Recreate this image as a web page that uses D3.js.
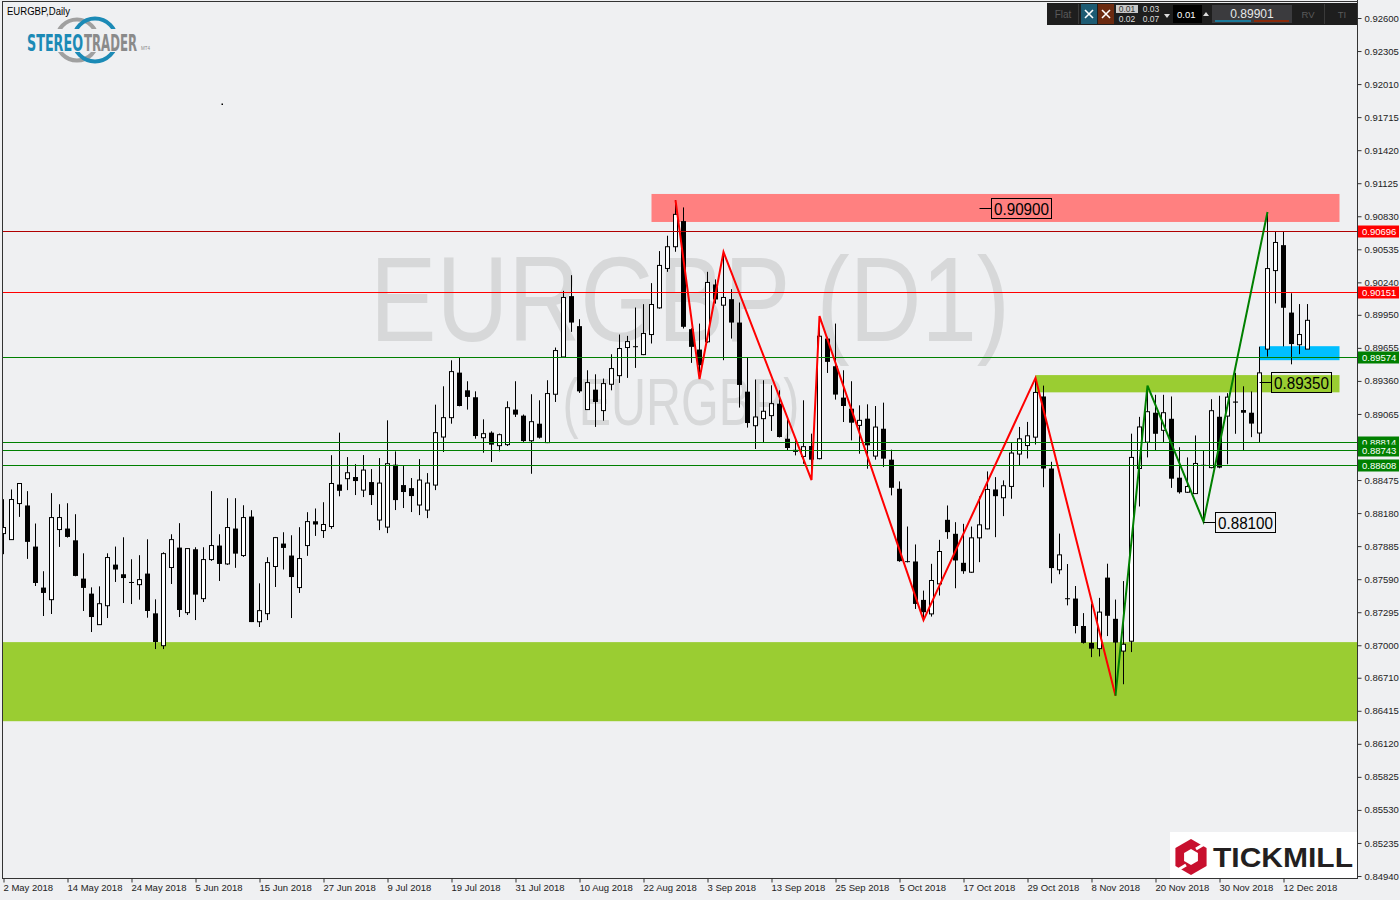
<!DOCTYPE html>
<html><head><meta charset="utf-8">
<script src="https://cdn.jsdelivr.net/npm/d3@7"></script>
<style>html,body{margin:0;padding:0;background:#eff0f2;}svg{display:block;}</style>
</head><body>
<svg id="c" width="1400" height="900"></svg>
<script>
// ---------------- DATA ----------------
const opens=[0.87997,0.87943,0.88265,0.88248,0.87881,0.87515,0.87407,0.88033,0.88042,0.87937,
0.87595,0.87461,0.87184,0.87353,0.87720,0.87634,0.87565,0.87541,0.87640,0.87285,
0.86996,0.87694,0.87872,0.87291,0.87857,0.87416,0.87765,0.87890,0.87726,0.88042,
0.87801,0.88149,0.87210,0.87282,0.87703,0.87908,0.87801,0.87515,0.87890,0.88107,
0.88024,0.88060,0.88435,0.88487,0.88502,0.88385,0.88457,0.88118,0.88055,0.88612,
0.88430,0.88403,0.88252,0.88207,0.88430,0.88859,0.89032,0.89434,0.89276,0.89214,
0.88853,0.88898,0.88782,0.88791,0.89104,0.89050,0.88826,0.88978,0.88809,0.89241,
0.89574,0.90117,0.89849,0.89104,0.89282,0.89095,0.89330,0.89407,0.89658,0.89670,
0.89595,0.89774,0.90012,0.90364,0.90558,0.90787,0.89822,0.89640,0.89709,0.90221,
0.90036,0.90090,0.89881,0.89264,0.88960,0.89023,0.89050,0.89157,0.88844,0.88734,
0.88686,0.88779,0.88666,0.89738,0.89491,0.89211,0.89112,0.88963,0.89023,0.88689,
0.88933,0.88657,0.88397,0.87751,0.87748,0.87405,0.87280,0.87548,0.88120,0.87995,
0.87736,0.87652,0.87959,0.88039,0.88391,0.88317,0.88418,0.88707,0.88783,0.88858,
0.89221,0.88578,0.87674,0.87420,0.87417,0.87172,0.87021,0.86970,0.87604,0.87236,
0.86948,0.87036,0.88578,0.88813,0.89076,0.88919,0.89022,0.88496,0.88366,0.88354,
0.88611,0.88586,0.89040,0.89046,0.89176,0.89100,0.89076,0.88895,0.89644,0.90345,
0.90572,0.89970,0.89683,0.89644];
const highs=[0.88304,0.88391,0.88447,0.88376,0.88087,0.87661,0.88358,0.88259,0.88268,0.88170,
0.87821,0.87517,0.87526,0.87821,0.87881,0.87964,0.87768,0.87804,0.87946,0.87410,
0.87830,0.87991,0.88090,0.87866,0.87875,0.87875,0.88376,0.87991,0.88313,0.88313,
0.88250,0.88206,0.87553,0.87786,0.87967,0.88009,0.87982,0.88054,0.88188,0.88221,
0.88277,0.88697,0.88898,0.88680,0.88617,0.88698,0.88573,0.88671,0.89008,0.88731,
0.88600,0.88493,0.88662,0.88537,0.89148,0.89312,0.89544,0.89565,0.89357,0.89267,
0.89017,0.88910,0.88890,0.89178,0.89357,0.89060,0.89241,0.89187,0.89366,0.89658,
0.90164,0.90304,0.89911,0.89455,0.89419,0.89381,0.89598,0.89774,0.89762,0.90015,
0.90045,0.90233,0.90519,0.90656,0.90975,0.90909,0.89830,0.89872,0.90334,0.90266,
0.90511,0.90179,0.90060,0.89565,0.89372,0.89366,0.89321,0.89276,0.89038,0.88859,
0.89187,0.88889,0.89938,0.89753,0.89872,0.89455,0.89357,0.89142,0.89151,0.89136,
0.89166,0.88746,0.88463,0.88060,0.87900,0.87488,0.87727,0.87941,0.88248,0.88099,
0.88084,0.88060,0.88329,0.88552,0.88501,0.88472,0.88814,0.88949,0.88994,0.89393,
0.89318,0.88638,0.87997,0.87725,0.87529,0.87287,0.87372,0.87423,0.87728,0.87408,
0.87573,0.88889,0.89039,0.89312,0.89236,0.89236,0.89221,0.88768,0.88677,0.88873,
0.88743,0.89197,0.89227,0.89251,0.89432,0.89312,0.89266,0.89665,0.90868,0.90696,
0.90696,0.90143,0.90046,0.90046];
const lows=[0.87813,0.87940,0.88146,0.87771,0.87529,0.87261,0.87279,0.87878,0.87961,0.87616,
0.87306,0.87118,0.87181,0.87243,0.87565,0.87377,0.87368,0.87407,0.87246,0.86966,
0.86966,0.87547,0.87252,0.87270,0.87225,0.87386,0.87753,0.87574,0.87717,0.87691,
0.87789,0.87207,0.87163,0.87225,0.87520,0.87676,0.87243,0.87467,0.87798,0.87976,
0.87958,0.88039,0.88330,0.88385,0.88341,0.88323,0.88252,0.88028,0.88001,0.88207,
0.88225,0.88189,0.88162,0.88135,0.88385,0.88725,0.88978,0.89133,0.89104,0.88844,
0.88719,0.88636,0.88731,0.88779,0.89038,0.88815,0.88531,0.88845,0.88805,0.89172,
0.89570,0.89798,0.89253,0.89100,0.88949,0.89005,0.89276,0.89342,0.89387,0.89476,
0.89590,0.89694,0.90005,0.90334,0.90513,0.89828,0.89521,0.89377,0.89700,0.90050,
0.89545,0.89738,0.89122,0.88943,0.88752,0.88812,0.88913,0.88855,0.88740,0.88695,
0.88621,0.88475,0.88660,0.89431,0.89193,0.88993,0.88829,0.88710,0.88576,0.88657,
0.88591,0.88338,0.87745,0.87740,0.87324,0.87224,0.87256,0.87444,0.87950,0.87509,
0.87638,0.87646,0.87742,0.88035,0.87965,0.88153,0.88308,0.88601,0.88668,0.88792,
0.88411,0.87553,0.87634,0.87356,0.87106,0.87015,0.86894,0.86900,0.87082,0.86550,
0.86652,0.86939,0.88239,0.88677,0.88743,0.88813,0.88405,0.88354,0.88360,0.88351,
0.88103,0.88580,0.88580,0.88616,0.88888,0.88743,0.88858,0.88813,0.89577,0.90052,
0.89668,0.89508,0.89599,0.89644];
const closes=[0.88051,0.88301,0.88444,0.87923,0.87556,0.87467,0.88140,0.88140,0.87967,0.87619,
0.87512,0.87252,0.87371,0.87783,0.87676,0.87600,0.87559,0.87586,0.87306,0.87029,
0.87818,0.87943,0.87315,0.87863,0.87452,0.87765,0.87890,0.87726,0.88051,0.87818,
0.88140,0.87207,0.87309,0.87738,0.87961,0.87869,0.87609,0.87774,0.88104,0.88078,
0.88078,0.88444,0.88379,0.88540,0.88466,0.88564,0.88341,0.88448,0.88621,0.88296,
0.88368,0.88332,0.88475,0.88448,0.88898,0.89032,0.89443,0.89136,0.89217,0.88868,
0.88889,0.88791,0.88880,0.89121,0.89059,0.88823,0.88996,0.88853,0.89247,0.89631,
0.90105,0.89881,0.89267,0.89345,0.89172,0.89336,0.89470,0.89649,0.89711,0.89661,
0.89783,0.90042,0.90391,0.90558,0.90847,0.89843,0.89664,0.89500,0.90239,0.90087,
0.90105,0.89881,0.89324,0.88984,0.89038,0.89089,0.89157,0.88859,0.88761,0.88740,
0.88773,0.88657,0.89759,0.89530,0.89238,0.89136,0.88987,0.89008,0.88785,0.88948,
0.88666,0.88406,0.87751,0.87745,0.87369,0.87295,0.87578,0.87837,0.88010,0.87757,
0.87661,0.87959,0.88075,0.88391,0.88331,0.88424,0.88716,0.88843,0.88870,0.89257,
0.88578,0.87689,0.87807,0.87414,0.87172,0.87021,0.86970,0.87296,0.87263,0.87024,
0.87009,0.88677,0.88949,0.89085,0.88888,0.89076,0.88487,0.88366,0.88417,0.88623,
0.88607,0.89094,0.88586,0.89215,0.89166,0.89076,0.88979,0.89432,0.90363,0.90596,
0.90013,0.89689,0.89774,0.89901];

const dateTickIndex=[0,8,16,24,32,40,48,56,64,72,80,88,96,104,112,120,128,136,144,152,160];
const dateTickLabels=["2 May 2018","14 May 2018","24 May 2018","5 Jun 2018","15 Jun 2018","27 Jun 2018","9 Jul 2018","19 Jul 2018","31 Jul 2018","10 Aug 2018","22 Aug 2018","3 Sep 2018","13 Sep 2018","25 Sep 2018","5 Oct 2018","17 Oct 2018","29 Oct 2018","8 Nov 2018","20 Nov 2018","30 Nov 2018","12 Dec 2018"];
const priceTickLabels=["0.92600","0.92305","0.92010","0.91715","0.91420","0.91125","0.90830","0.90535","0.90240","0.89950","0.89655","0.89360","0.89065","0.88475","0.88180","0.87885","0.87590","0.87295","0.87000","0.86710","0.86415","0.86120","0.85825","0.85530","0.85235","0.84940"];

const levelValues=[0.90696,0.90151,0.89574,0.88814,0.88743,0.88608];
const levelKinds=["res","res","sup","sup","sup","sup"];

// zones: start bar, end bar, top price, bottom price
const zoneStart=[81,129,157,-2];
const zoneEnd=[167,167,167,172];
const zoneTop=[0.91029,0.89412,0.89670,0.87028];
const zoneBottom=[0.90779,0.89258,0.89545,0.86322];
const zoneKinds=["red","lime","blue","lime"];

const redZigIndex=[84,87,90,101,102,115,129,139];
const redZigValue=[0.90975,0.89377,0.90511,0.88475,0.89939,0.87224,0.89387,0.86550];
const greenZigIndex=[139,143,150,158];
const greenZigValue=[0.86550,0.89318,0.88103,0.90868];

const noteText=["0.90900","0.89350","0.88100"];
const noteIndex=[122,157,150];
const noteValue=[0.90900,0.89350,0.88100];

const symbolTitle="EURGBP,Daily";
const watermark1="EURGBP (D1)";
const watermark2="(EURGBP)";
const lastPrice="0.89901";

// ---------------- DRAW ----------------
const svg=d3.select("#c");
const BG="#eff0f2";
const plotL=2,plotR=1357,plotT=1,plotB=878;
const x=d3.scaleLinear().domain([0,163]).range([3.5,1307.5]);
const y=d3.scaleLinear().domain([0.84940,0.92600]).range([876,18]);
const FONT="'Liberation Sans', Arial, sans-serif";

svg.append("rect").attr("width",1400).attr("height",900).attr("fill",BG);
svg.append("defs").append("clipPath").attr("id","plot").append("rect")
  .attr("x",plotL).attr("y",plotT).attr("width",plotR-plotL).attr("height",plotB-plotT);

const plot=svg.append("g").attr("clip-path","url(#plot)");

// watermark
plot.append("text").attr("x",690).attr("y",341).attr("text-anchor","middle")
  .attr("font-family",FONT).attr("font-size",120).attr("fill","#d7d8d9")
  .attr("textLength",640).attr("lengthAdjust","spacingAndGlyphs").text(watermark1);
plot.append("text").attr("x",681).attr("y",425).attr("text-anchor","middle")
  .attr("font-family",FONT).attr("font-size",66).attr("fill","#d7d8d9")
  .attr("textLength",237).attr("lengthAdjust","spacingAndGlyphs").text(watermark2);

// zones
const zoneColor={red:"#ff8080",lime:"#9acd32",blue:"#00bfff"};
plot.selectAll("rect.zone").data(zoneStart).join("rect").attr("class","zone")
  .attr("x",(d,i)=>x(d)).attr("width",(d,i)=>x(zoneEnd[i])-x(d))
  .attr("y",(d,i)=>y(zoneTop[i])).attr("height",(d,i)=>y(zoneBottom[i])-y(zoneTop[i]))
  .attr("fill",(d,i)=>zoneColor[zoneKinds[i]]);

// candles
const idx=d3.range(opens.length);
const cg=plot.append("g");
cg.selectAll("line.wick").data(idx).join("line")
  .attr("x1",i=>x(i)).attr("x2",i=>x(i))
  .attr("y1",i=>y(highs[i])).attr("y2",i=>y(lows[i]))
  .attr("stroke","#000").attr("stroke-width",1);
cg.selectAll("rect.body").data(idx).join("rect")
  .attr("x",i=>closes[i]>=opens[i]?x(i)-2:x(i)-2.5)
  .attr("width",i=>closes[i]>=opens[i]?4:5)
  .attr("y",i=>y(Math.max(opens[i],closes[i])))
  .attr("height",i=>Math.max(1,Math.abs(y(opens[i])-y(closes[i]))))
  .attr("fill",i=>closes[i]>=opens[i]?"#fff":"#000")
  .attr("stroke",i=>closes[i]>=opens[i]?"#000":"none").attr("stroke-width",1);

// levels
const levelColor=(v,i)=>levelKinds[i]==="res"?(i===0?"#b00000":"#ff0000"):"#008000";
plot.selectAll("line.level").data(levelValues).join("line")
  .attr("x1",plotL).attr("x2",plotR)
  .attr("y1",d=>Math.round(y(d))+0.5).attr("y2",d=>Math.round(y(d))+0.5)
  .attr("stroke",levelColor).attr("stroke-width",1);

// zigzags
const zz=d3.line().x(d=>x(d[0])).y(d=>y(d[1]));
plot.append("path").attr("d",zz(redZigIndex.map((d,i)=>[d,redZigValue[i]])))
  .attr("fill","none").attr("stroke","#ff0000").attr("stroke-width",2);
plot.append("path").attr("d",zz(greenZigIndex.map((d,i)=>[d,greenZigValue[i]])))
  .attr("fill","none").attr("stroke","#008000").attr("stroke-width",2);

// notes
noteText.forEach((t,i)=>{
  const ax=x(noteIndex[i]), ay=Math.round(y(noteValue[i]))+0.5;
  const g=plot.append("g");
  g.append("line").attr("x1",ax).attr("x2",ax+12).attr("y1",ay).attr("y2",ay).attr("stroke","#000");
  g.append("rect").attr("x",Math.round(ax)+11.5).attr("y",ay-10).attr("width",60).attr("height",20)
    .attr("fill","none").attr("stroke","#000").attr("stroke-width",1);
  g.append("text").attr("x",Math.round(ax)+14).attr("y",ay+6.5).attr("font-family",FONT)
    .attr("font-size",17).attr("fill","#000").attr("textLength",55).attr("lengthAdjust","spacingAndGlyphs").text(t);
});

// frame
svg.append("line").attr("x1",plotL+0.5).attr("x2",plotL+0.5).attr("y1",plotT).attr("y2",plotB).attr("stroke","#333");
svg.append("line").attr("x1",plotL).attr("x2",plotR).attr("y1",plotT+0.5).attr("y2",plotT+0.5).attr("stroke","#333");
svg.append("line").attr("x1",plotL).attr("x2",plotR+1).attr("y1",plotB+0.5).attr("y2",plotB+0.5).attr("stroke","#333");
svg.append("line").attr("x1",plotR+0.5).attr("x2",plotR+0.5).attr("y1",0).attr("y2",plotB+1).attr("stroke","#333");

// y axis
const yAx=svg.append("g").attr("transform",`translate(${plotR+0.5},0)`)
  .call(d3.axisRight(y).tickValues(priceTickLabels.map(Number)).tickSize(4).tickPadding(3)
    .tickFormat((d,i)=>priceTickLabels[i]));
yAx.select(".domain").remove();
yAx.selectAll("line").attr("stroke","#333");
yAx.selectAll("text").attr("font-family",FONT).attr("font-size",9.5).attr("fill","#222");

// x axis
const xAx=svg.append("g").attr("transform",`translate(0,${plotB+0.5})`)
  .call(d3.axisBottom(x).tickValues(dateTickIndex).tickSize(4).tickFormat((d,i)=>dateTickLabels[i]));
xAx.select(".domain").remove();
xAx.selectAll("line").attr("stroke","#333");
xAx.selectAll("text").attr("text-anchor","start").attr("dx",-0.5).attr("dy","0.6em").attr("y",7)
  .attr("font-family",FONT).attr("font-size",9.5).attr("fill","#222");

// level price tags
const tags=svg.append("g");
levelValues.forEach((v,i)=>{
  const yy=Math.round(y(v));
  tags.append("rect").attr("x",plotR+1).attr("y",yy-5.5).attr("width",41).attr("height",12)
    .attr("fill",levelKinds[i]==="res"?"#ff0000":"#008000");
  tags.append("text").attr("x",plotR+5).attr("y",yy+4).attr("font-family",FONT).attr("font-size",9.5)
    .attr("fill","#fff").text(d3.format(".5f")(v));
});

// title
svg.append("text").attr("x",7).attr("y",15).attr("font-family",FONT).attr("font-size",10)
  .attr("fill","#000").attr("textLength",63).attr("lengthAdjust","spacingAndGlyphs").text(symbolTitle);
svg.append("rect").attr("x",221.5).attr("y",103.5).attr("width",1.5).attr("height",1.5).attr("fill","#000");

// STEREOTRADER logo
const lg=svg.append("g");
lg.append("circle").attr("cx",77).attr("cy",40).attr("r",20.5).attr("fill","none").attr("stroke","#a0a0a0").attr("stroke-width",4);
lg.append("circle").attr("cx",95).attr("cy",40).attr("r",21.5).attr("fill","none").attr("stroke","#1b8ab6").attr("stroke-width",4);
lg.append("rect").attr("x",24).attr("y",29).attr("width",118).attr("height",23).attr("fill",BG);
const lt=lg.append("g").attr("transform","translate(27,51) scale(1,1.55)");
lt.append("text").attr("x",0).attr("y",0).attr("font-family","'DejaVu Sans Condensed', "+FONT)
  .attr("font-weight","bold").attr("font-size",14.5).attr("fill","#1b8ab6")
  .attr("textLength",56).attr("lengthAdjust","spacingAndGlyphs").text("STEREO");
lt.append("text").attr("x",57).attr("y",0).attr("font-family","'DejaVu Sans Condensed', "+FONT)
  .attr("font-weight","bold").attr("font-size",14.5).attr("fill","#8a8a8a")
  .attr("textLength",53).attr("lengthAdjust","spacingAndGlyphs").text("TRADER");
lg.append("text").attr("x",141).attr("y",50).attr("font-family",FONT).attr("font-size",4.5).attr("fill","#8a8a8a").text("MT4");

// toolbar
const tb=svg.append("g");
tb.append("rect").attr("x",1047).attr("y",3).attr("width",310).attr("height",22).attr("fill","#1e1e1e");
tb.append("text").attr("x",1063).attr("y",18).attr("text-anchor","middle").attr("font-family",FONT).attr("font-size",10).attr("fill","#5a5a5a").text("Flat");
tb.append("rect").attr("x",1078).attr("y",4).attr("width",1).attr("height",20).attr("fill","#3a3a3a");
tb.append("rect").attr("x",1081).attr("y",4).attr("width",16).attr("height",20).attr("fill","#1d5b73");
tb.append("rect").attr("x",1098).attr("y",4).attr("width",16).attr("height",20).attr("fill","#6b2a10");
[1089,1106].forEach(cx=>{
  tb.append("path").attr("d",`M${cx-4},10L${cx+4},18M${cx+4},10L${cx-4},18`).attr("stroke","#fff").attr("stroke-width",1.6);
});
tb.append("rect").attr("x",1116).attr("y",5).attr("width",22).attr("height",8).attr("fill","#c8c8c8");
tb.append("text").attr("x",1127).attr("y",12).attr("text-anchor","middle").attr("font-family",FONT).attr("font-size",8.5).attr("fill","#333").text("0.01");
tb.append("text").attr("x",1127).attr("y",22).attr("text-anchor","middle").attr("font-family",FONT).attr("font-size",8.5).attr("fill","#ddd").text("0.02");
tb.append("text").attr("x",1151).attr("y",12).attr("text-anchor","middle").attr("font-family",FONT).attr("font-size",8.5).attr("fill","#ddd").text("0.03");
tb.append("text").attr("x",1151).attr("y",22).attr("text-anchor","middle").attr("font-family",FONT).attr("font-size",8.5).attr("fill","#ddd").text("0.07");
tb.append("path").attr("d","M1164,14L1170,14L1167,18Z").attr("fill","#ddd");
tb.append("rect").attr("x",1173).attr("y",5).attr("width",29).attr("height",18).attr("fill","#000");
tb.append("text").attr("x",1177).attr("y",18).attr("font-family",FONT).attr("font-size",9.5).attr("fill","#fff").text("0.01");
tb.append("path").attr("d","M1203,16L1209,16L1206,12Z").attr("fill","#ddd");
tb.append("rect").attr("x",1212).attr("y",5).attr("width",80).attr("height",18).attr("fill","#3b3b3e");
tb.append("text").attr("x",1252).attr("y",18).attr("text-anchor","middle").attr("font-family",FONT).attr("font-size",12).attr("fill","#e8e8e8").text(lastPrice);
tb.append("rect").attr("x",1215).attr("y",20).attr("width",36).attr("height",2).attr("fill","#1b7a9b");
tb.append("rect").attr("x",1254).attr("y",20).attr("width",35).attr("height",2).attr("fill","#8a2a0a");
tb.append("text").attr("x",1308).attr("y",18).attr("text-anchor","middle").attr("font-family",FONT).attr("font-size",9.5).attr("fill","#5a5a5a").text("RV");
tb.append("rect").attr("x",1324).attr("y",4).attr("width",1).attr("height",20).attr("fill","#3a3a3a");
tb.append("text").attr("x",1342).attr("y",18).attr("text-anchor","middle").attr("font-family",FONT).attr("font-size",9.5).attr("fill","#5a5a5a").text("TI");

// Tickmill logo
const tk=svg.append("g");
tk.append("rect").attr("x",1170).attr("y",832).attr("width",187).attr("height",46).attr("fill","#fff");
const hex=(cx,cy,r)=>d3.range(6).map(k=>{const a=Math.PI/3*k-Math.PI/2;return [cx+r*Math.cos(a),cy+r*Math.sin(a)];});
tk.append("polygon").attr("points",hex(1191,857,18).join(" ")).attr("fill","#c8102e");
tk.append("polygon").attr("points",hex(1191,857,8).join(" ")).attr("fill","#fff");
tk.append("path").attr("d","M1196,849L1206,843M1186,865L1176,871").attr("stroke","#fff").attr("stroke-width",3);
tk.append("text").attr("x",1213).attr("y",867).attr("font-family",FONT).attr("font-weight","bold")
  .attr("font-size",27).attr("fill","#231f20").attr("textLength",140).attr("lengthAdjust","spacingAndGlyphs").text("TICKMILL");
</script>
</body></html>
